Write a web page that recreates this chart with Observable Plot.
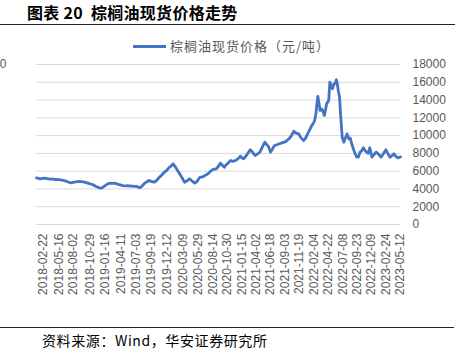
<!DOCTYPE html>
<html><head><meta charset="utf-8">
<script src="https://cdn.jsdelivr.net/npm/d3@7"></script>
<script src="https://cdn.jsdelivr.net/npm/@observablehq/plot@0.6"></script>
<style>
body{margin:0;width:460px;height:355px;position:relative;overflow:hidden;background:#fff;font-family:"Noto Sans CJK SC","Liberation Sans",sans-serif;}
#title{position:absolute;left:27px;top:2px;font-size:16px;font-weight:bold;color:#000;line-height:20px;white-space:nowrap;letter-spacing:0.3px;}
#rule1{position:absolute;left:0;top:24px;width:455px;height:1px;background:#222;}
#legend{position:absolute;left:133px;top:37px;height:18px;white-space:nowrap;}
#legend .sw{position:absolute;left:0;top:8px;width:33px;height:3px;background:#4472C4;}
#legend .tx{position:absolute;left:37px;top:0;font-size:13px;line-height:18px;color:#595959;letter-spacing:1px;}
#chart{position:absolute;left:0;top:56px;}
#rule2{position:absolute;left:0;top:327px;width:454px;height:1px;background:#222;}
#source{position:absolute;left:42px;top:331px;font-size:14px;line-height:18px;color:#000;white-space:nowrap;letter-spacing:0.6px;}
</style></head>
<body>
<div id="title">图表 20&nbsp;&nbsp;棕榈油现货价格走势</div>
<div id="rule1"></div>
<div id="legend"><div class="sw"></div><div class="tx">棕榈油现货价格（元/吨）</div></div>
<div id="chart"></div>
<div id="rule2"></div>
<div id="source">资料来源：Wind，华安证券研究所</div>
<script>
const seriesName = "棕榈油现货价格（元/吨）";
const dates = ["2018-01-16","2018-01-26","2018-02-06","2018-02-17","2018-03-04","2018-03-14","2018-03-30","2018-04-14","2018-04-25","2018-05-16","2018-06-01","2018-06-12","2018-06-22","2018-07-03","2018-07-19","2018-07-29","2018-08-15","2018-08-31","2018-09-12","2018-09-30","2018-10-12","2018-10-25","2018-11-11","2018-11-27","2018-12-08","2018-12-24","2019-01-03","2019-01-13","2019-01-30","2019-02-10","2019-02-27","2019-03-10","2019-03-28","2019-04-09","2019-04-20","2019-05-07","2019-05-18","2019-05-29","2019-06-10","2019-06-21","2019-07-02","2019-07-18","2019-07-28","2019-08-13","2019-08-24","2019-09-08","2019-09-19","2019-10-05","2019-10-16","2019-11-02","2019-11-13","2019-11-30","2019-12-12","2019-12-24","2020-01-05","2020-01-15","2020-01-29","2020-02-10","2020-02-22","2020-03-04","2020-03-16","2020-03-28","2020-04-12","2020-04-22","2020-05-09","2020-05-19","2020-06-06","2020-06-20","2020-07-02","2020-07-11","2020-07-21","2020-08-06","2020-08-16","2020-09-01","2020-09-11","2020-09-23","2020-10-02","2020-10-14","2020-10-23","2020-11-02","2020-11-17","2020-11-28","2020-12-13","2020-12-24","2021-01-08","2021-01-15","2021-01-25","2021-02-03","2021-02-13","2021-03-01","2021-03-11","2021-03-27","2021-04-06","2021-04-22","2021-05-02","2021-05-18","2021-06-01","2021-06-08","2021-06-18","2021-06-28","2021-07-09","2021-07-19","2021-08-04","2021-08-14","2021-08-30","2021-09-08","2021-09-24","2021-10-04","2021-10-20","2021-10-30","2021-11-15","2021-11-25","2021-12-11","2021-12-21","2022-01-06","2022-01-16","2022-01-23","2022-02-01","2022-02-08","2022-02-15","2022-02-20","2022-02-25","2022-03-02","2022-03-09","2022-03-18","2022-03-23","2022-04-01","2022-04-08","2022-04-13","2022-04-24","2022-04-30","2022-05-06","2022-05-14","2022-05-23","2022-05-29","2022-06-04","2022-06-09","2022-06-14","2022-06-21","2022-06-26","2022-07-01","2022-07-05","2022-07-14","2022-07-21","2022-07-31","2022-08-09","2022-08-17","2022-08-26","2022-09-04","2022-09-11","2022-09-21","2022-09-30","2022-10-08","2022-10-17","2022-10-26","2022-11-01","2022-11-12","2022-11-21","2022-11-29","2022-12-11","2022-12-23","2023-01-02","2023-01-13","2023-01-28","2023-02-08","2023-02-23","2023-03-05","2023-03-17","2023-03-26","2023-04-07","2023-04-16","2023-04-28","2023-05-12"];
const prices = [5250,5200,5140,5180,5210,5150,5100,5120,5060,5050,5000,4950,4880,4780,4690,4730,4800,4840,4820,4760,4690,4600,4500,4300,4200,4080,4150,4310,4550,4650,4620,4650,4520,4460,4380,4350,4380,4310,4330,4290,4300,4160,4200,4580,4760,4950,4850,4760,4900,5300,5510,5900,6100,6400,6600,6830,6400,6000,5600,5200,4760,4900,5140,4950,4650,4800,5320,5350,5510,5600,5750,6080,6200,6270,6500,6900,6700,6450,6700,6900,7200,7100,7200,7350,7690,7500,7390,7600,7900,8400,8200,7760,7900,8140,8600,9260,8890,8700,8140,8500,8890,8950,9080,9150,9260,9350,9640,9900,10500,10300,10200,9800,9450,9700,10400,10800,11100,11400,11700,12500,13600,14400,13800,12830,13000,12800,12260,13000,13580,13950,16010,15700,15270,15830,15900,16280,15800,15080,14300,12450,11000,9820,9260,9700,10200,9640,9700,9000,8420,8000,7570,7600,8140,8300,8630,8400,8140,8000,8630,7570,7900,8140,7950,7570,7900,8400,8000,7570,7700,7950,7700,7500,7600];
const tickDates = ["2018-02-22","2018-05-16","2018-08-02","2018-10-29","2019-01-16","2019-04-11","2019-07-03","2019-09-19","2019-12-12","2020-03-09","2020-05-29","2020-08-14","2020-10-30","2021-01-15","2021-04-02","2021-06-18","2021-09-03","2021-11-19","2022-02-04","2022-04-22","2022-07-08","2022-09-23","2022-12-09","2023-02-24","2023-05-12"];
const yTicks = [0,2000,4000,6000,8000,10000,12000,14000,16000,18000];
const leftStub = ["0"];

const data = dates.map((d,i)=>({date:new Date(d), price:prices[i]}));
const fmt = d3.utcFormat("%Y-%m-%d");

const chart = Plot.plot({
  width:460, height:264,
  marginLeft:36, marginRight:60, marginTop:8, marginBottom:96,
  style:{fontFamily:"'Liberation Sans', Arial, sans-serif", fontSize:"12px", color:"#595959", background:"transparent", overflow:"visible"},
  x:{type:"utc", domain:[new Date("2018-01-16"), new Date("2023-05-12")]},
  y:{domain:[0,18000]},
  marks:[
    Plot.gridY(yTicks,{stroke:"#d9d9d9", strokeOpacity:1, strokeWidth:1}),
    Plot.axisY({anchor:"right", ticks:yTicks, tickFormat:d=>String(d), tickSize:0, tickPadding:12, textAnchor:"start", label:null, fill:"#595959", fontSize:12}),
    Plot.axisY({anchor:"left", ticks:[18000], tickFormat:()=>leftStub[0], tickSize:0, tickPadding:30, label:null, fill:"#595959", fontSize:12}),
    Plot.axisX({ticks:tickDates.map(d=>new Date(d)), tickFormat:fmt, tickRotate:-90, tickSize:0, tickPadding:9, label:null, fill:"#595959", fontSize:12}),
    Plot.line(data,{x:"date", y:"price", stroke:"#4472C4", strokeWidth:2.8, strokeLinejoin:"round", curve:"linear"})
  ]
});
document.getElementById("chart").appendChild(chart);
</script>
</body></html>
